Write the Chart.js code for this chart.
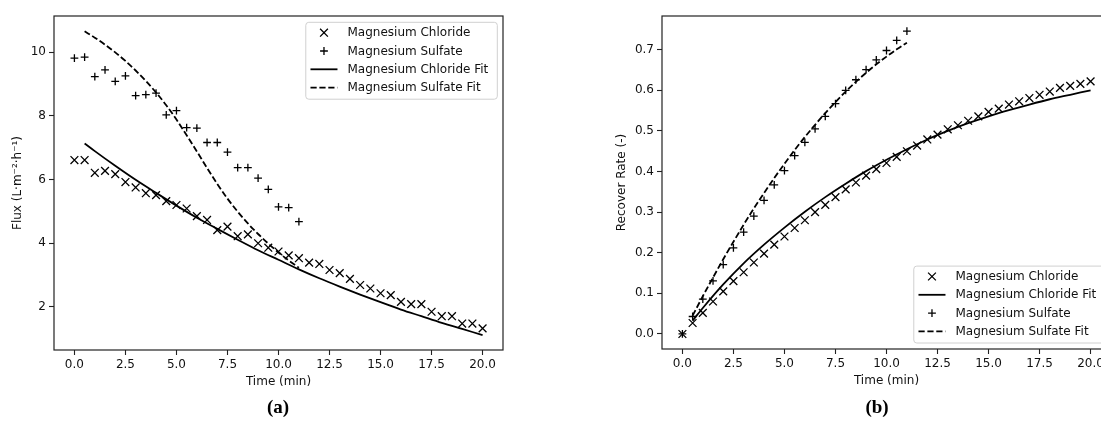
<!DOCTYPE html>
<html>
<head>
<meta charset="utf-8">
<title>Flux and recover rate</title>
<script src="https://cdn.jsdelivr.net/npm/chart.js@4.4.1/dist/chart.umd.min.js"></script>
<style>
    html, body { margin: 0; padding: 0; background: #fff; overflow: hidden; }
    body { width: 1101px; height: 429px; position: relative; }
    .panel { position: absolute; top: 0; }
    .caption {
        position: absolute;
        top: 396px;
        transform: translateX(-50%);
        font-family: 'Liberation Serif', serif;
        font-weight: bold;
        font-size: 19px;
        color: #000;
    }
</style>
</head>
<body>
<div class="panel" style="left:0px"><canvas id="fluxChart" width="520" height="400" style="width:520px;height:400px"></canvas></div>
<div class="panel" style="left:600px"><canvas id="recoverChart" width="530" height="400" style="width:530px;height:400px"></canvas></div>
<div class="caption" style="left:278px">(a)</div>
<div class="caption" style="left:877px">(b)</div>

<script>
// Sample times (min)
const timeFull = [0, 0.5, 1, 1.5, 2, 2.5, 3, 3.5, 4, 4.5, 5, 5.5, 6, 6.5, 7, 7.5, 8, 8.5, 9, 9.5,
    10, 10.5, 11, 11.5, 12, 12.5, 13, 13.5, 14, 14.5, 15, 15.5, 16, 16.5, 17, 17.5, 18, 18.5, 19, 19.5, 20];
const timeShort = [0, 0.5, 1, 1.5, 2, 2.5, 3, 3.5, 4, 4.5, 5, 5.5, 6, 6.5, 7, 7.5, 8, 8.5, 9, 9.5, 10, 10.5, 11];
const fitTimeLong = [0.5, 1, 2, 3, 4, 5, 6, 7, 8, 9, 10, 11, 12, 13, 14, 15, 16, 17, 18, 19, 20];
const fitTimeShort = [0.5, 1, 1.5, 2, 2.5, 3, 3.5, 4, 4.5, 5, 5.5, 6, 6.5, 7, 7.5, 8, 8.5, 9, 9.5, 10, 10.5, 11];

// (a) Flux
const fluxChloride = [6.61, 6.61, 6.21, 6.27, 6.17, 5.92, 5.75, 5.57, 5.51, 5.32, 5.20, 5.09, 4.85, 4.73,
    4.41, 4.52, 4.22, 4.28, 4.00, 3.86, 3.74, 3.62, 3.53, 3.39, 3.35, 3.16, 3.06, 2.88, 2.69, 2.58,
    2.43, 2.37, 2.16, 2.09, 2.09, 1.85, 1.71, 1.71, 1.48, 1.48, 1.33];
const fluxSulfate = [9.81, 9.84, 9.23, 9.44, 9.08, 9.25, 8.63, 8.66, 8.71, 8.03, 8.16, 7.63, 7.61, 7.16,
    7.16, 6.86, 6.37, 6.37, 6.04, 5.69, 5.14, 5.12, 4.68];
const fluxChlorideFit = [7.13, 6.89, 6.43, 5.99, 5.58, 5.18, 4.80, 4.45, 4.11, 3.78, 3.48, 3.18, 2.90,
    2.64, 2.39, 2.15, 1.92, 1.71, 1.50, 1.31, 1.12];
const fluxSulfateFit = [10.65, 10.45, 10.23, 9.99, 9.72, 9.42, 9.09, 8.73, 8.33, 7.88, 7.39, 6.88, 6.36,
    5.86, 5.40, 4.99, 4.62, 4.29, 3.99, 3.71, 3.46, 3.23];

// (b) Recover rate
const rateChloride = [0.000, 0.027, 0.052, 0.080, 0.105, 0.130, 0.152, 0.176, 0.198, 0.220, 0.240, 0.261,
    0.280, 0.300, 0.318, 0.337, 0.356, 0.373, 0.390, 0.406, 0.421, 0.436, 0.450, 0.464, 0.479, 0.491,
    0.504, 0.514, 0.525, 0.536, 0.547, 0.555, 0.565, 0.573, 0.581, 0.589, 0.597, 0.606, 0.611, 0.616, 0.622];
const rateSulfate = [0.000, 0.043, 0.086, 0.131, 0.171, 0.212, 0.251, 0.290, 0.329, 0.367, 0.402, 0.439,
    0.472, 0.505, 0.536, 0.567, 0.600, 0.626, 0.651, 0.675, 0.698, 0.723, 0.746];
const rateChlorideFit = [0.033, 0.064, 0.122, 0.174, 0.220, 0.262, 0.301, 0.337, 0.370, 0.401, 0.429,
    0.455, 0.479, 0.500, 0.519, 0.536, 0.551, 0.565, 0.578, 0.589, 0.600];
const rateSulfateFit = [0.045, 0.093, 0.139, 0.184, 0.227, 0.269, 0.309, 0.347, 0.384, 0.419, 0.453,
    0.485, 0.515, 0.544, 0.571, 0.597, 0.621, 0.643, 0.664, 0.683, 0.701, 0.717];

// Tick labels
const timeTicks = [0, 2.5, 5, 7.5, 10, 12.5, 15, 17.5, 20];
const fluxTicks = [2, 4, 6, 8, 10];
const rateTicks = [0, 0.1, 0.2, 0.3, 0.4, 0.5, 0.6, 0.7];

const INK = '#111';
const DASH = [6.2, 2.7];
Chart.defaults.font.family = "'DejaVu Sans', sans-serif";
Chart.defaults.font.size = 12;
Chart.defaults.color = INK;

function pairs(xs, ys) {
    return xs.map((x, i) => ({ x: x, y: ys[i] }));
}

function pointSet(label, xs, ys, style) {
    return {
        label: label,
        data: pairs(xs, ys),
        showLine: false,
        pointStyle: style,
        pointRadius: style === 'crossRot' ? 5.5 : 3.9,
        pointBorderWidth: 1.3,
        borderColor: '#000',
        backgroundColor: '#000'
    };
}

function fitSet(label, xs, ys, dashed) {
    return {
        label: label,
        data: pairs(xs, ys),
        showLine: true,
        pointRadius: 0,
        borderWidth: 1.8,
        borderColor: '#000',
        borderDash: dashed ? DASH : [],
        cubicInterpolationMode: 'monotone',
        fill: false
    };
}

// Box around the plotting area (all four spines)
const frameBox = {
    id: 'frameBox',
    afterDatasetsDraw(chart) {
        const { ctx, chartArea: a } = chart;
        ctx.save();
        ctx.strokeStyle = '#222';
        ctx.lineWidth = 1.2;
        ctx.strokeRect(a.left, a.top, a.right - a.left, a.bottom - a.top);
        ctx.restore();
    }
};

// matplotlib-like legend drawn inside the axes
const boxLegend = {
    id: 'boxLegend',
    afterDraw(chart, args, opts) {
        const { ctx, chartArea } = chart;
        const sets = opts.order.map(i => chart.data.datasets[i]);
        const rowH = 18.3, handleLen = 27, padL = 4.7, gap = 10, padR = 9;
        ctx.save();
        ctx.font = "12px 'DejaVu Sans'";
        const textW = Math.max(...sets.map(d => ctx.measureText(d.label).width));
        const w = padL + handleLen + gap + textW + padR;
        const h = rowH * (sets.length - 1) + 22;
        const x = chartArea.right - 5.7 - w;
        const y = opts.corner === 'top' ? chartArea.top + 6.3 : chartArea.bottom - 6 - h;

        ctx.beginPath();
        ctx.roundRect(x, y, w, h, 3);
        ctx.fillStyle = 'rgba(255,255,255,0.8)';
        ctx.fill();
        ctx.strokeStyle = '#d0d0d0';
        ctx.lineWidth = 1;
        ctx.stroke();

        sets.forEach((d, i) => {
            const cy = y + 10.4 + i * rowH;
            const hx = x + padL;
            const cx = hx + handleLen / 2;
            ctx.strokeStyle = '#000';
            ctx.beginPath();
            if (d.showLine) {
                ctx.lineWidth = 1.8;
                ctx.setLineDash(d.borderDash);
                ctx.moveTo(hx, cy);
                ctx.lineTo(hx + handleLen, cy);
            } else if (d.pointStyle === 'crossRot') {
                const r = 3.9;
                ctx.lineWidth = 1.3;
                ctx.setLineDash([]);
                ctx.moveTo(cx - r, cy - r); ctx.lineTo(cx + r, cy + r);
                ctx.moveTo(cx - r, cy + r); ctx.lineTo(cx + r, cy - r);
            } else {
                const r = 3.9;
                ctx.lineWidth = 1.3;
                ctx.setLineDash([]);
                ctx.moveTo(cx - r, cy); ctx.lineTo(cx + r, cy);
                ctx.moveTo(cx, cy - r); ctx.lineTo(cx, cy + r);
            }
            ctx.stroke();
            ctx.setLineDash([]);
            ctx.fillStyle = INK;
            ctx.textBaseline = 'middle';
            ctx.textAlign = 'left';
            ctx.fillText(d.label, hx + handleLen + gap, cy + 0.5);
        });
        ctx.restore();
    }
};

const tickGrid = {
    display: true,
    drawOnChartArea: false,
    drawTicks: true,
    tickLength: 5,
    tickColor: '#222',
    tickWidth: 1.1
};

function timeAxis() {
    return {
        type: 'linear',
        min: -1,
        max: 21,
        afterBuildTicks: s => { s.ticks = timeTicks.map(v => ({ value: v })); },
        afterFit: s => { s.height = 40; },
        grid: tickGrid,
        border: { display: false },
        ticks: { padding: 3, maxRotation: 0, autoSkip: false, callback: v => v.toFixed(1) },
        title: { display: true, text: 'Time (min)', padding: { top: 0, bottom: 1 } }
    };
}

function valueAxis(min, max, ticks, width, titleText, titlePad, digits) {
    return {
        type: 'linear',
        min: min,
        max: max,
        afterBuildTicks: s => { s.ticks = ticks.map(v => ({ value: v })); },
        afterFit: s => { s.width = width; },
        grid: tickGrid,
        border: { display: false },
        ticks: { padding: 3, autoSkip: false, callback: v => v.toFixed(digits) },
        title: { display: true, text: titleText, padding: { top: titlePad, bottom: 0 } }
    };
}

function makeChart(id, datasets, yAxis, padding, legendOpts) {
    return new Chart(document.getElementById(id), {
        type: 'scatter',
        data: { datasets: datasets },
        options: {
            responsive: false,
            animation: false,
            events: [],
            devicePixelRatio: 1,
            layout: { padding: padding },
            scales: { x: timeAxis(), y: yAxis },
            plugins: {
                legend: { display: false },
                tooltip: { enabled: false },
                boxLegend: legendOpts
            }
        },
        plugins: [frameBox, boxLegend]
    });
}

// (a) flux chart
makeChart('fluxChart', [
    pointSet('Magnesium Chloride', timeFull, fluxChloride, 'crossRot'),
    pointSet('Magnesium Sulfate', timeShort, fluxSulfate, 'cross'),
    fitSet('Magnesium Chloride Fit', fitTimeLong, fluxChlorideFit, false),
    fitSet('Magnesium Sulfate Fit', fitTimeShort, fluxSulfateFit, true)
], valueAxis(0.65, 11.13, fluxTicks, 54, 'Flux (L·m⁻²·h⁻¹)', 11, 0),
   { top: 16, right: 17, bottom: 10, left: 0 },
   { corner: 'top', order: [0, 1, 2, 3] });

// (b) recover rate chart
makeChart('recoverChart', [
    pointSet('Magnesium Chloride', timeFull, rateChloride, 'crossRot'),
    fitSet('Magnesium Chloride Fit', fitTimeLong, rateChlorideFit, false),
    pointSet('Magnesium Sulfate', timeShort, rateSulfate, 'cross'),
    fitSet('Magnesium Sulfate Fit', fitTimeShort, rateSulfateFit, true)
], valueAxis(-0.037, 0.783, rateTicks, 62, 'Recover Rate (-)', 14.5, 1),
   { top: 16, right: 19, bottom: 11, left: 0 },
   { corner: 'bottom', order: [0, 1, 2, 3] });
</script>
</body>
</html>
